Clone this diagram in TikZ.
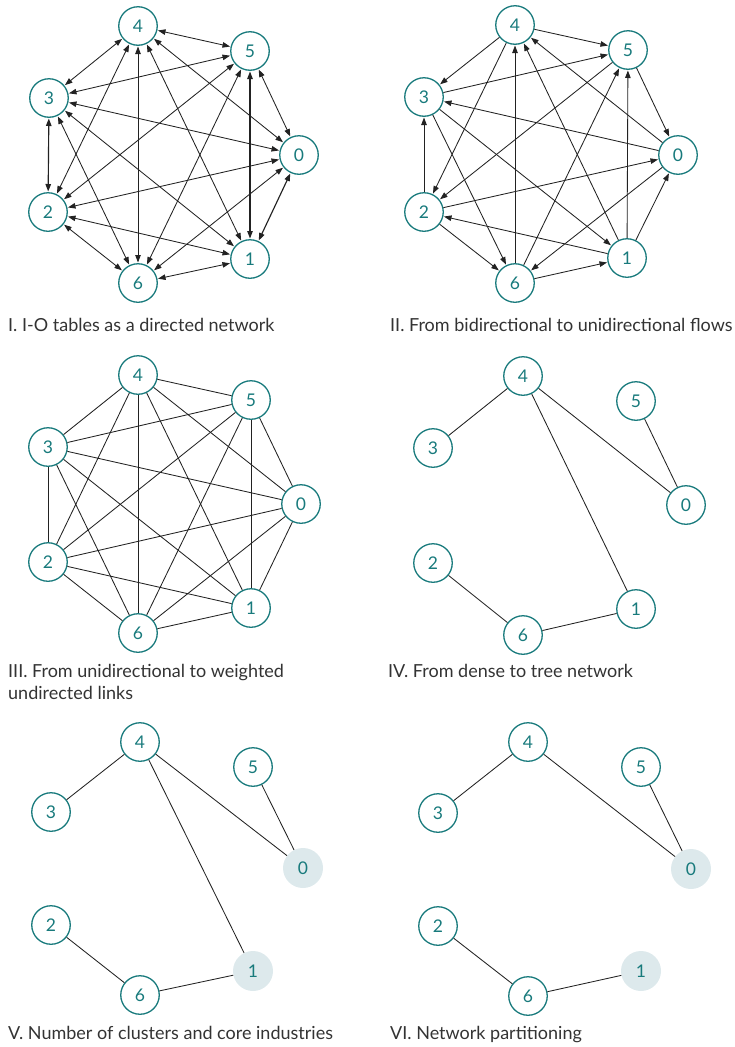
\documentclass[tikz,border=0pt]{standalone}
\usepackage{fontspec}
\setmainfont{Lato}
\usetikzlibrary{arrows.meta}
\definecolor{teal1}{RGB}{24,122,124}
\definecolor{corefill}{RGB}{221,233,236}
\definecolor{edgec}{RGB}{34,34,34}
\tikzset{
  ind/.style={circle, draw=teal1, line width=1.3pt, minimum size=38.5pt, inner sep=0pt,
    text=teal1, font=\fontsize{17.5}{17.5}\selectfont},
  core/.style={circle, fill=corefill, minimum size=40pt, inner sep=0pt,
    text=teal1, font=\fontsize{17.5}{17.5}\selectfont},
  link/.style={draw=edgec, line width=0.85pt},
  heavy/.style={draw=edgec, line width=1.15pt},
  both/.style={{Triangle[length=7.5pt,width=5.5pt]}-{Triangle[length=7.5pt,width=5.5pt]}, shorten <=0.6pt, shorten >=0.6pt},
  one/.style={-{Triangle[length=7.5pt,width=5.5pt]}, shorten >=0.6pt},
  caption/.style={anchor=base west, inner sep=0pt, text=black!80, font=\fontsize{18}{22}\selectfont, align=left}
}
\begin{document}
\begin{tikzpicture}[x=1pt,y=-1pt]
\useasboundingbox (0,0) rectangle (734,1047);
% Panel I
\foreach \n/\x/\y in {4/138/26,5/250/51,3/49/98,0/299/155,2/48/212,1/250/259,6/138/283}
  \node[ind] (a\n) at (\x,\y) {\n};
\foreach \i/\j in {4/5,4/3,4/2,4/6,4/1,4/0,5/3,5/2,5/6,5/0,3/0,3/6,3/1,0/2,0/6,2/1,2/6,6/1}
  \draw[link,both] (a\i) -- (a\j);
\foreach \i/\j in {5/1,3/2,0/1}
  \draw[heavy,both] (a\i) -- (a\j);
\node[caption] (capI) at (8,331) {I. I-O tables as a directed network};
% Panel II
\foreach \n/\x/\y in {4/515/25,5/628/50,3/424/97,0/678/155,2/424/212,1/627/258,6/515/283}
  \node[ind] (b\n) at (\x,\y) {\n};
\foreach \i/\j in {4/5,4/3,4/2,6/4,1/4,0/4,3/5,5/2,6/5,1/5,5/0,0/3,2/3,3/6,3/1,2/0,0/6,1/0,1/2,2/6,6/1}
  \draw[link,one] (b\i) -- (b\j);
\node[caption] (capII) at (390,331) {II. From bidirectional to unidirectional flows};
% Panel III
\foreach \n/\x/\y in {4/138/375,5/251/400,3/48/447,0/301/504,2/48/562,1/251/608,6/138/633}
  \node[ind] (c\n) at (\x,\y) {\n};
\foreach \i/\j in {4/5,4/3,4/2,4/6,4/1,4/0,5/3,5/2,5/6,5/1,5/0,3/0,3/2,3/6,3/1,0/2,0/6,0/1,2/1,2/6,6/1}
  \draw[link] (c\i) -- (c\j);
\node[caption] (capIII) at (8,699) {III. From unidirectional to weighted\\undirected links};
% Panel IV
\foreach \n/\x/\y in {4/523/376,5/636/401,3/433/448,0/686/505,2/433/563,1/636/609,6/523/635}
  \node[ind] (d\n) at (\x,\y) {\n};
\foreach \i/\j in {4/3,4/0,4/1,5/0,2/6,6/1}
  \draw[link] (d\i) -- (d\j);
\node[caption] (capIV) at (388,677) {IV. From dense to tree network};
% Panel V
\foreach \n/\x/\y in {4/140/742,5/253/767,3/51/812,2/51/925,6/140/995}
  \node[ind] (e\n) at (\x,\y) {\n};
\foreach \n/\x/\y in {0/303/868,1/253/971}
  \node[core] (e\n) at (\x,\y) {\n};
\foreach \i/\j in {4/3,4/0,4/1,5/0,2/6,6/1}
  \draw[link] (e\i) -- (e\j);
\node[caption] (capV) at (8,1039) {V. Number of clusters and core industries};
% Panel VI
\foreach \n/\x/\y in {4/528/742,5/641/767,3/438/813,2/438/926,6/528/996}
  \node[ind] (f\n) at (\x,\y) {\n};
\foreach \n/\x/\y in {0/691/869,1/641/971}
  \node[core] (f\n) at (\x,\y) {\n};
\foreach \i/\j in {4/3,4/0,5/0,2/6,6/1}
  \draw[link] (f\i) -- (f\j);
\node[caption] (capVI) at (390,1039) {VI. Network partitioning};
\end{tikzpicture}
\end{document}
